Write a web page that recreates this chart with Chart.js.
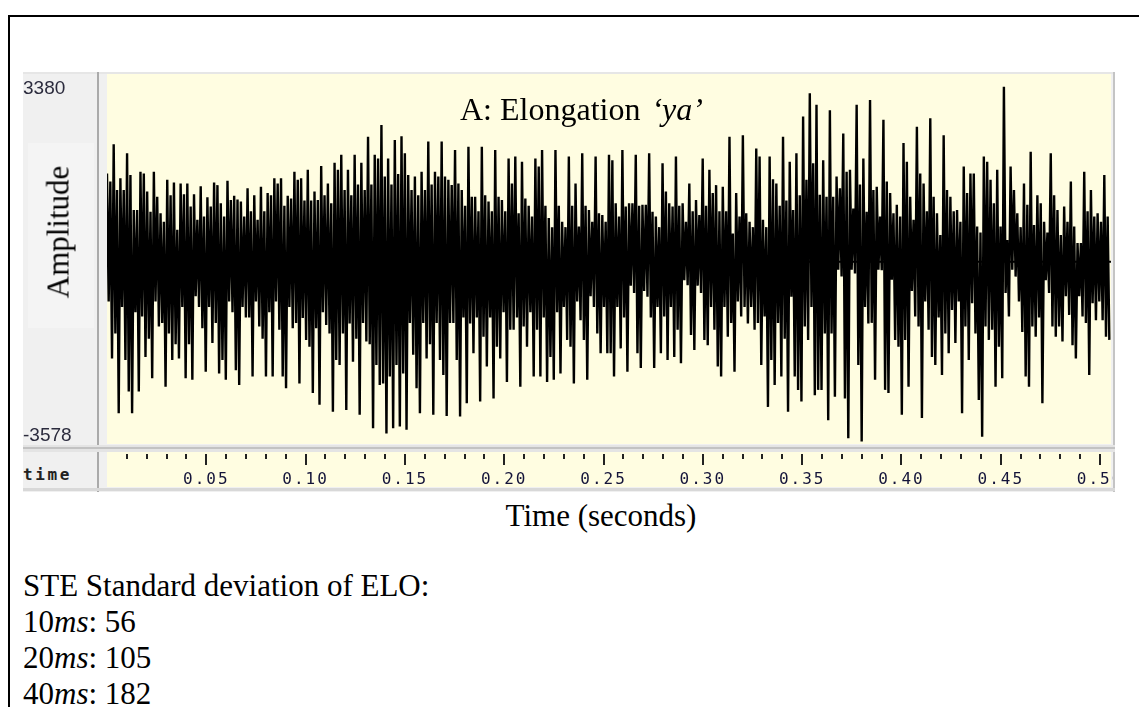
<!DOCTYPE html>
<html>
<head>
<meta charset="utf-8">
<title>Elongation ya</title>
<script src="https://cdn.jsdelivr.net/npm/chart.js@4/dist/chart.umd.min.js"></script>
<style>
  body { margin: 0; width: 1139px; height: 707px; overflow: hidden; background: #fff; position: relative;
         font-family: "Liberation Serif", "Times New Roman", serif; color: #000; }
  .abs { position: absolute; }
  #frame { left: 8px; top: 15px; width: 1300px; height: 900px; border-left: 2px solid #000; border-top: 2px solid #000; }
  #panel { left: 23px; top: 72px; width: 1092px; height: 420px; background: #f0f0f0; }
  #panelTop { left: 23px; top: 72px; width: 1092px; height: 2px; background: #e6e6e6; }
  #ampBox { left: 28px; top: 143px; width: 66px; height: 185px; background: #f4f4f4; }
  #colLine { left: 97px; top: 72px; width: 2px; height: 420px; background: #aaa; }
  #rightLine { left: 1113px; top: 72px; width: 2px; height: 420px; background: #c4c4c4; }
  #hsep { left: 23px; top: 445px; width: 1092px; height: 7px; background: #e4e4e4; }
  #hsepLine { left: 23px; top: 447px; width: 1092px; height: 2px; background: #c2c2c2; }
  #strip { left: 107px; top: 452px; width: 1004px; height: 35px; background: #fffde1; }
  #panelBottom { left: 23px; top: 488px; width: 1092px; height: 3px; background: #d8d8d8; }
  #timeLbl { left: 23px; top: 467px; font: 600 16px "DejaVu Sans Mono", monospace; letter-spacing: 2.6px; color: #222; line-height: 16px; }
  #chartBox { left: 23px; top: 72px; width: 1090px; height: 420px; }
  #title { left: 460px; top: 93px; font-size: 32px; line-height: 32px; white-space: nowrap; }
  #title i { margin-left: 3px; }
  #ampLbl { left: 58px; top: 232px; font-size: 31px; line-height: 31px; white-space: nowrap;
            transform: translate(-50%, -50%) rotate(-90deg); }
  #xTitle { left: 0; width: 1202px; top: 500px; text-align: center; font-size: 31px; line-height: 31px; }
  #notes { left: 23px; top: 568px; font-size: 31px; line-height: 36px; white-space: nowrap; }
</style>
</head>
<body>
<div class="abs" id="frame"></div>
<div class="abs" id="panel"></div>
<div class="abs" id="panelTop"></div>
<div class="abs" id="ampBox"></div>
<div class="abs" id="colLine"></div>
<div class="abs" id="rightLine"></div>
<div class="abs" id="hsep"></div>
<div class="abs" id="hsepLine"></div>
<div class="abs" id="strip"></div>
<div class="abs" id="panelBottom"></div>
<div class="abs" id="timeLbl">time</div>
<div class="abs" id="chartBox"><canvas id="wave" width="1090" height="420"></canvas></div>
<div class="abs" id="title">A: Elongation <i>‘ya’</i></div>
<div class="abs" id="ampLbl">Amplitude</div>
<div class="abs" id="xTitle">Time (seconds)</div>
<div class="abs" id="notes">
  STE Standard deviation of ELO:<br>
  10<i>ms</i>: 56<br>
  20<i>ms</i>: 105<br>
  40<i>ms</i>: 182
</div>

<script>
// amplitude range shown on the left ruler
const ampMin = -3578;
const ampMax = 3380;
const dcOffset = -150;        // level of the horizontal centre line
const timeEnd = 0.5055;       // seconds across the view
const pulseStep = 0.00337;    // seconds between successive positive peaks
const tickStep = 0.01;

// main positive / negative peak of each pulse, left to right
const upPeaks = [
  1510, 2060, 1420, 1890, 820, 1540, 1170, 1540, 760, 1390,
  1340, 1320, 1320, 1120, 1270, 1060, 1340, 950, 1370, 1090,
  980, 1230, 1100, 1260, 1140, 1420, 1420, 1090, 1540, 1420,
  1580, 1170, 1650, 1320, 1710, 1860, 1580, 1860, 1710, 2200,
  1860, 2420, 1790, 2140, 2210, 1480, 1450, 1540, 2110, 1540,
  2110, 1390, 1950, 1200, 2010, 1070, 2010, 980, 1950, 1010,
  1790, 1830, 1730, 900, 1790, 1950, 670, 1950, 600, 1830,
  1320, 1890, 820, 1830, 730, 1860, 950, 1950, 950, 1860,
  920, 1890, 700, 1700, 950, 1830, 950, 1320, 1010, 1790,
  1580, 1290, 1260, 2200, 1140, 2230, 600, 1980, 640, 1830,
  1320, 2200, 1730, 1890, 2580, 3020, 2800, 1760, 2700, 1450,
  2260, 1580, 2800, 1790, 2890, 1260, 2520, 1140, 920, 2080,
  1070, 2390, 1320, 2550, 760, 2230, 1070, 820, 1640, 1510,
  510, 1830, 1390, 1580, 3140, 1640, 760, 1320, 1920, 1100,
  600, 1890, 820, 890, 1360, 200, 1540, 1200, 760, 1480
];
const downPeaks = [
  -1970, -3000, -2000, -3000, -2590, -1940, -2340, -1370, -2500, -2000,
  -1970, -2340, -2370, -1000, -2220, -1680, -2250, -2370, -1100, -2470,
  -1200, -2310, -1370, -2310, -2310, -1430, -2530, -1400, -2440, -1620,
  -2620, -2840, -1340, -2970, -2090, -2940, -2030, -3030, -1650, -3280,
  -2470, -3380, -3280, -3250, -3310, -1900, -3000, -1970, -3030, -2000,
  -3050, -1300, -3060, -2810, -1870, -2780, -2120, -2720, -1970, -2410,
  -1430, -2500, -1750, -2310, -2310, -2410, -2370, -2250, -1620, -2440,
  -1250, -2370, -1000, -1870, -1870, -2310, -1780, -2220, -740, -2150,
  -810, -2150, -1870, -2000, -1940, -2060, -590, -1810, -740, -1720,
  -1430, -2310, -1560, -2220, -1180, -1310, -1430, -2090, -2880, -2470,
  -2310, -2970, -2310, -2780, -1620, -2660, -2560, -3130, -2690, -430,
  -3470, -370, -3530, -1310, -2370, -310, -2620, -1620, -3030, -2500,
  -1180, -3090, -1430, -2090, -2280, -1870, -1680, -3000, -2000, -1500,
  -3440, -1620, -2500, -2340, -1180, -430, -1470, -2500, -1560, -2810,
  -740, -1560, -1650, -1150, -1970, -1180, -2280, -1250, -1250, -1620
];

// smaller swings inside each pulse
const midUps = [
  1360, 1200, 1200, 1480, 820, 1510, 790, 1070, 600, 1100,
  450, 1120, 890, 640, 700, 890, 1290, 700, 1010, 1020,
  700, 800, 640, 800, 1100, 1320, 900, 1040, 1390, 1000,
  1000, 1010, 1100, 950, 1580, 1200, 1100, 1300, 1200, 1300,
  1790, 1450, 1300, 1500, 1890, 1200, 1100, 1200, 1300, 1450,
  1450, 1290, 1320, 900, 1070, 800, 1100, 800, 1070, 800,
  1320, 760, 1040, 700, 1640, 900, 500, 900, 500, 900,
  510, 900, 600, 760, 600, 1760, 700, 890, 950, 900,
  920, 790, 500, 1170, 890, 900, 600, 800, 730, 900,
  1140, 800, 800, 380, 700, 760, 500, 1830, 500, 1400,
  900, 1000, 820, 1100, 1390, 1700, 1110, 1070, 1070, 1230,
  1540, 850, 1300, 790, 1200, 700, 1360, 760, 700, 1730,
  640, 1510, 800, 1070, 350, 1200, 800, 600, 1140, 1510,
  400, 1730, 950, 510, 260, 1200, 500, 920, 540, 950,
  400, 1100, 350, 600, 510, 200, 800, 700, 600, 700
];
const midDowns = [
  -900, -1500, -1000, -2590, -1100, -1180, -1600, -900, -1300, -1500,
  -1700, -1000, -1700, -800, -1400, -1000, -1300, -2000, -900, -2190,
  -1000, -1200, -900, -1600, -1100, -900, -2310, -1000, -1300, -1210,
  -1750, -1400, -1100, -1500, -2000, -1500, -1310, -1600, -1300, -1700,
  -2090, -2440, -2310, -2090, -2250, -1300, -2530, -1300, -1700, -1300,
  -2280, -1300, -2000, -1200, -1310, -1200, -1560, -1200, -1750, -1100,
  -1430, -1200, -1370, -1100, -1430, -1200, -1940, -1100, -1000, -1750,
  -900, -1620, -800, -1500, -1000, -1870, -1000, -1200, -600, -1870,
  -700, -1200, -1000, -1180, -1000, -1430, -500, -1530, -600, -1620,
  -1000, -2120, -1000, -1300, -900, -1000, -1000, -1300, -1180, -2000,
  -1300, -1600, -810, -2560, -1370, -1000, -2560, -1500, -1500, -300,
  -2720, -300, -2090, -1000, -1300, -300, -2560, -490, -1750, -1620,
  -700, -1370, -900, -1940, -1200, -1500, -1060, -900, -1370, -930,
  -2750, -1370, -1430, -1750, -740, -300, -900, -2310, -1370, -1200,
  -500, -1370, -1370, -800, -1720, -800, -1300, -930, -900, -1560
];

// each pulse: main rise, inner dip, inner rise, main fall
const wavePoints = [];
upPeaks.forEach((u, k) => {
  const t = k * pulseStep;
  const h = pulseStep / 4;
  wavePoints.push({ x: t, y: u });
  wavePoints.push({ x: t + h, y: midDowns[k] });
  wavePoints.push({ x: t + 2 * h, y: midUps[k] });
  wavePoints.push({ x: t + 3 * h, y: downPeaks[k] });
});

const isMajor = v => Math.round(v / tickStep) % 5 === 0;

// yellow plot background, ruler ticks and the min/max amplitude labels
const rulerPlugin = {
  id: 'ruler',
  beforeDraw(chart) {
    const { ctx, chartArea: a } = chart;
    ctx.save();
    ctx.fillStyle = '#fffde1';
    ctx.fillRect(a.left, a.top, a.right - a.left, a.bottom - a.top);
    ctx.restore();
    ctx.letterSpacing = '2px';
  },
  afterDraw(chart) {
    const { ctx } = chart;
    ctx.letterSpacing = '0px';
    const xs = chart.scales.x;
    const ys = chart.scales.y;
    const top = xs.top + 10;
    ctx.save();
    ctx.strokeStyle = '#222';
    ctx.lineWidth = 2;
    xs.ticks.forEach(t => {
      const px = Math.round(xs.getPixelForValue(t.value));
      ctx.beginPath();
      ctx.moveTo(px, top);
      ctx.lineTo(px, top + (isMajor(t.value) ? 11 : 5));
      ctx.stroke();
    });
    ctx.font = '19px "Liberation Sans", Arial, sans-serif';
    ctx.fillStyle = '#2b2b3d';
    ctx.textAlign = 'left';
    ctx.textBaseline = 'alphabetic';
    ctx.fillText(String(ys.max), 0, ys.getPixelForValue(ys.max) + 20);
    ctx.fillText(String(ys.min), 0, ys.getPixelForValue(ys.min) - 3);
    ctx.restore();
  }
};

new Chart(document.getElementById('wave'), {
  type: 'line',
  data: {
    datasets: [{
      data: [{ x: 0, y: dcOffset }, { x: timeEnd, y: dcOffset }],
      borderColor: '#000',
      borderWidth: 2,
      pointRadius: 0
    }, {
      data: wavePoints,
      borderColor: '#000',
      borderWidth: 2.4,
      borderJoinStyle: 'bevel',
      pointRadius: 0,
      tension: 0
    }]
  },
  options: {
    responsive: false,
    animation: false,
    events: [],
    layout: { padding: { top: 2, right: 2, left: 0, bottom: 0 } },
    plugins: { legend: { display: false }, tooltip: { enabled: false } },
    scales: {
      x: {
        type: 'linear',
        min: 0,
        max: timeEnd,
        grid: { display: false, drawTicks: false },
        border: { display: false },
        afterBuildTicks: s => {
          const ticks = [];
          for (let i = 1; i * tickStep <= timeEnd; i++) ticks.push({ value: +(i * tickStep).toFixed(2) });
          s.ticks = ticks;
        },
        afterFit: s => { s.height = 48; s.paddingLeft = 0; s.paddingRight = 0; },
        ticks: {
          autoSkip: false,
          maxRotation: 0,
          padding: 26,
          color: '#14143a',
          font: { family: '"DejaVu Sans Mono", monospace', size: 16 },
          callback: v => isMajor(v) ? v.toFixed(2) : ''
        }
      },
      y: {
        min: ampMin,
        max: ampMax,
        grid: { display: false },
        border: { display: false },
        ticks: { display: false },
        afterFit: s => { s.width = 84; }
      }
    }
  },
  plugins: [rulerPlugin]
});
</script>
</body>
</html>
